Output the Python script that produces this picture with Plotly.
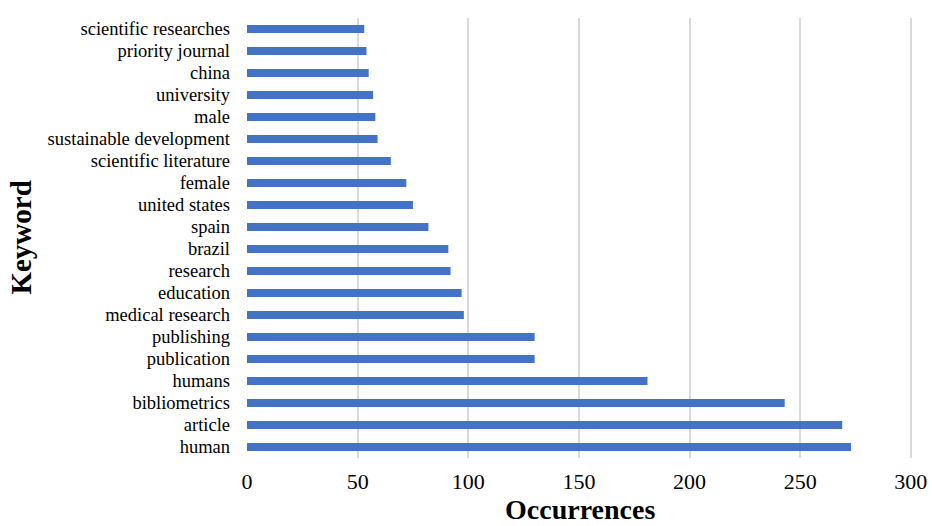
import plotly.graph_objects as go

# Keyword occurrence counts (bottom to top as drawn)
keywords = [
    "human", "article", "bibliometrics", "humans", "publication", "publishing",
    "medical research", "education", "research", "brazil", "spain",
    "united states", "female", "scientific literature", "sustainable development",
    "male", "university", "china", "priority journal", "scientific researches",
]
occurrences = [273, 269, 243, 181, 130, 130, 98, 97, 92, 91, 82,
               75, 72, 65, 59, 58, 57, 55, 54, 53]
x_ticks = [0, 50, 100, 150, 200, 250, 300]

SERIF = "Liberation Serif, Times New Roman, serif"

fig = go.Figure(
    go.Bar(
        x=occurrences,
        y=keywords,
        orientation="h",
        marker=dict(color="#4472C4", line=dict(width=0)),
        width=0.36,
    )
)

fig.update_layout(
    width=932,
    height=526,
    margin=dict(l=247, r=19, t=18, b=68),
    paper_bgcolor="white",
    plot_bgcolor="white",
    showlegend=False,
    font=dict(family=SERIF, color="#000000"),
    xaxis=dict(
        range=[0, 301],
        tickvals=x_ticks,
        ticktext=[str(v) for v in x_ticks],
        tickfont=dict(family=SERIF, size=22, color="#000000"),
        showgrid=True,
        gridcolor="#d9d9d9",
        gridwidth=2,
        zeroline=False,
        showline=False,
        ticks="",
        ticklabelstandoff=8,
        automargin=False,
    ),
    yaxis=dict(
        categoryorder="array",
        categoryarray=keywords,
        range=[-0.5, len(keywords) - 0.5],
        tickfont=dict(family=SERIF, size=18.5, color="#000000"),
        showgrid=False,
        zeroline=False,
        showline=False,
        ticks="",
        ticklabelstandoff=16,
        automargin=False,
    ),
    annotations=[
        dict(
            text="<b>Occurrences</b>", xref="paper", yref="paper",
            x=0.5, y=-0.117, xanchor="center", yanchor="middle",
            showarrow=False, font=dict(family=SERIF, size=28, color="#000000"),
        ),
        dict(
            text="<b>Keyword</b>", xref="paper", yref="paper",
            x=-0.34, y=0.5, xanchor="center", yanchor="middle", textangle=-90,
            showarrow=False, font=dict(family=SERIF, size=29, color="#000000"),
        ),
    ],
)

fig.write_html("out.html")
